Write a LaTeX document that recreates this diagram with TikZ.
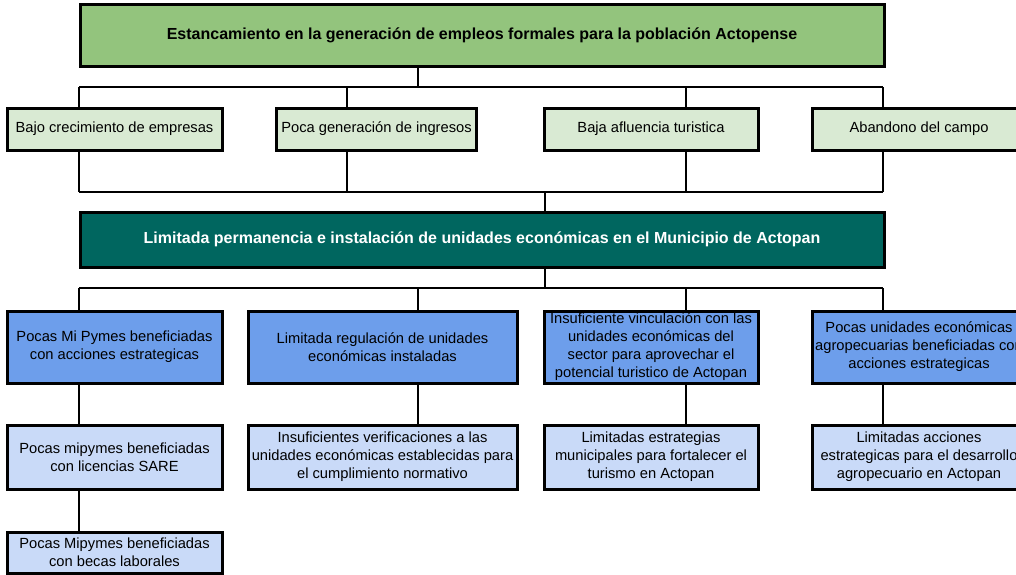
\documentclass[tikz,border=0pt]{standalone}
\usepackage{fontspec}
\setmainfont{Liberation Sans}
\definecolor{cGreen}{HTML}{93C47D}
\definecolor{cLightGreen}{HTML}{D9EAD3}
\definecolor{cTeal}{HTML}{00665F}
\definecolor{cBlue}{HTML}{6D9EEB}
\definecolor{cLightBlue}{HTML}{C9DAF8}
\begin{document}
\begin{tikzpicture}[x=1pt,y=-1pt,
  box/.style={draw=black, line width=3pt, inner sep=0pt, align=center,
    font=\fontsize{14.7}{18}\selectfont, text=black},
  titlebox/.style={box, font=\fontsize{16}{19}\selectfont\bfseries},
  conn/.style={draw=black, line width=2pt},
  rowtwo/.style={box, fill=cLightGreen, minimum height=42pt},
  rowthree/.style={box, fill=cBlue, minimum height=72pt},
  rowfour/.style={box, fill=cLightBlue, minimum height=64pt},
  rowfive/.style={box, fill=cLightBlue, minimum height=41pt}]
\useasboundingbox (0,0) rectangle (1016,574);
\clip (0,0) rectangle (1016,574);
% top
\node[titlebox, fill=cGreen, minimum width=804pt, minimum height=62pt] (top) at (482,35)
  {Estancamiento en la generación de empleos formales para la población Actopense};
% row 2
\node[rowtwo, minimum width=215pt] (a1) at (114.5,129) {Bajo crecimiento de empresas};
\node[rowtwo, minimum width=200pt] (a2) at (376.5,129) {Poca generación de ingresos};
\node[rowtwo, minimum width=214pt] (a3) at (651,129) {Baja afluencia turistica};
\node[rowtwo, minimum width=214pt] (a4) at (919,129) {Abandono del campo};
% central
\node[titlebox, fill=cTeal, text=white, minimum width=804pt, minimum height=55pt] (mid) at (482,239.5)
  {Limitada permanencia e instalación de unidades económicas en el Municipio de Actopan};
% row 3
\node[rowthree, minimum width=215pt] (b1) at (114.5,347) {Pocas Mi Pymes beneficiadas\\con acciones estrategicas};
\node[rowthree, minimum width=269pt] (b2) at (382.5,347) {Limitada regulación de unidades\\económicas instaladas};
\node[rowthree, minimum width=214pt] (b3) at (651,347) {Insuficiente vinculación con las\\unidades económicas del\\sector para aprovechar el\\potencial turistico de Actopan};
\node[rowthree, minimum width=214pt] (b4) at (919,347) {Pocas unidades económicas\\agropecuarias beneficiadas con\\acciones estrategicas};
% row 4
\node[rowfour, minimum width=215pt] (c1) at (114.5,457) {Pocas mipymes beneficiadas\\con licencias SARE};
\node[rowfour, minimum width=269pt] (c2) at (382.5,457) {Insuficientes verificaciones a las\\unidades económicas establecidas para\\el cumplimiento normativo};
\node[rowfour, minimum width=214pt] (c3) at (651,457) {Limitadas estrategias\\municipales para fortalecer el\\turismo en Actopan};
\node[rowfour, minimum width=214pt] (c4) at (919,457) {Limitadas acciones\\estrategicas para el desarrollo\\agropecuario en Actopan};
% row 5
\node[rowfive, minimum width=215pt] (d1) at (114.5,552.5) {Pocas Mipymes beneficiadas\\con becas laborales};
% bus coordinates
\coordinate (busA) at (418,87);
\coordinate (busAw) at (79,87);
\coordinate (busAe) at (883,87);
\coordinate (busBw) at (79,192);
\coordinate (busBe) at (883,192);
\coordinate (busBm) at (545,192);
\coordinate (busCw) at (79,288);
\coordinate (busCe) at (883,288);
\coordinate (busCm) at (545,288);
\coordinate (xA2) at (347,0);
\coordinate (xA3) at (686,0);
\coordinate (xC2) at (418,0);
% connectors top -> row 2
\draw[conn] (top.south -| busA) -- (busA);
\draw[conn] (busAw) -- (busAe);
\draw[conn] (busAw) -- (busAw |- a1.north);
\draw[conn] (xA2 |- busA) -- (xA2 |- a2.north);
\draw[conn] (xA3 |- busA) -- (xA3 |- a3.north);
\draw[conn] (busAe) -- (busAe |- a4.north);
% row 2 -> central
\draw[conn] (busBw |- a1.south) -- (busBw);
\draw[conn] (xA2 |- a2.south) -- (xA2 |- busBw);
\draw[conn] (xA3 |- a3.south) -- (xA3 |- busBw);
\draw[conn] (busBe |- a4.south) -- (busBe);
\draw[conn] (busBw) -- (busBe);
\draw[conn] (busBm) -- (busBm |- mid.north);
% central -> row 3
\draw[conn] (busCm |- mid.south) -- (busCm);
\draw[conn] (busCw) -- (busCe);
\draw[conn] (busCw) -- (busCw |- b1.north);
\draw[conn] (xC2 |- busCw) -- (xC2 |- b2.north);
\draw[conn] (xA3 |- busCw) -- (xA3 |- b3.north);
\draw[conn] (busCe) -- (busCe |- b4.north);
% row 3 -> row 4
\draw[conn] (busCw |- b1.south) -- (busCw |- c1.north);
\draw[conn] (xC2 |- b2.south) -- (xC2 |- c2.north);
\draw[conn] (xA3 |- b3.south) -- (xA3 |- c3.north);
\draw[conn] (busCe |- b4.south) -- (busCe |- c4.north);
% row 4 -> row 5
\draw[conn] (busCw |- c1.south) -- (busCw |- d1.north);
\end{tikzpicture}
\end{document}
